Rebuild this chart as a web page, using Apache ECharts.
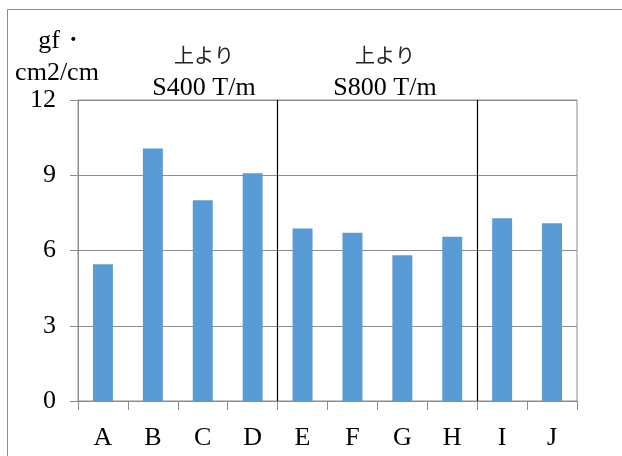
<!DOCTYPE html>
<html>
<head>
<meta charset="utf-8">
<script src="https://cdn.jsdelivr.net/npm/echarts@6/dist/echarts.min.js"></script>
<style>
  html, body { margin: 0; padding: 0; background: #fff; }
  #chart { width: 622px; height: 456px; }
</style>
</head>
<body>
<div id="chart"></div>
<script>
// Sample categories and measured values (gf·cm2/cm)
const categories = ['A', 'B', 'C', 'D', 'E', 'F', 'G', 'H', 'I', 'J'];
const values = [5.45, 10.07, 8.0, 9.08, 6.88, 6.71, 5.81, 6.55, 7.29, 7.09];
const yTicks = { min: 0, max: 12, interval: 3 };
// Group boundaries, counted in category slots from the left edge
const groupBounds = [4, 8];
const groupTitles = ['上より', '上より'];
const groupSpeeds = ['S400 T/m', 'S800 T/m'];
const unitLines = ['gf・', 'cm2/cm'];

const SERIF = '"Liberation Serif", "Times New Roman", serif';
const JP = '"Noto Sans CJK JP", sans-serif';
const GRAY = '#8c8c8c';
const FS = 26;

const chart = echarts.init(document.getElementById('chart'), null, { renderer: 'canvas' });

// group headings sit centred over each group of bars
const groupCenters = [204, 385];
const headingTexts = [];
groupCenters.forEach((cx, i) => {
  headingTexts.push({
    type: 'text', silent: true,
    style: { x: cx, y: 55, text: groupTitles[i], font: '20px ' + JP, fill: '#222',
             textAlign: 'center', textVerticalAlign: 'middle' }
  });
  headingTexts.push({
    type: 'text', silent: true,
    style: { x: cx, y: 88, text: groupSpeeds[i], font: FS + 'px ' + SERIF, fill: '#000',
             textAlign: 'center', textVerticalAlign: 'middle' }
  });
});

chart.setOption({
  animation: false,
  backgroundColor: '#fff',
  textStyle: { fontFamily: SERIF },
  grid: {
    left: 78, right: 45, top: 100, bottom: 55,
    show: true, borderColor: GRAY, borderWidth: 1, backgroundColor: 'transparent'
  },
  xAxis: [
    {
      type: 'category',
      data: categories,
      boundaryGap: true,
      axisLine: { lineStyle: { color: GRAY, width: 1 } },
      axisTick: { show: true, length: 9, lineStyle: { color: GRAY } },
      axisLabel: { color: '#000', fontSize: FS, fontFamily: SERIF, margin: 24 },
      splitLine: { show: false }
    },
    {
      // helper axis spanning the category slots, used for group separators
      type: 'value',
      min: 0,
      max: categories.length,
      show: false
    }
  ],
  yAxis: {
    type: 'value',
    min: yTicks.min,
    max: yTicks.max,
    interval: yTicks.interval,
    axisLine: { show: true, lineStyle: { color: GRAY, width: 1 } },
    axisTick: { show: true, inside: false, length: 8, lineStyle: { color: GRAY } },
    axisLabel: { color: '#000', fontSize: FS, fontFamily: SERIF, margin: 22 },
    splitLine: { show: true, lineStyle: { color: GRAY, width: 1 } }
  },
  series: [
    {
      type: 'bar',
      data: values,
      barWidth: '40%',
      itemStyle: { color: '#5B9BD5' }
    },
    {
      type: 'line',
      xAxisIndex: 1,
      data: [],
      silent: true,
      markLine: {
        silent: true,
        symbol: ['none', 'none'],
        label: { show: false },
        lineStyle: { color: '#000', width: 1.2, type: 'solid' },
        data: groupBounds.map(v => ({ xAxis: v }))
      }
    }
  ],
  graphic: [
    {
      type: 'rect',
      silent: true,
      shape: { x: 7.5, y: 9.5, width: 700, height: 600 },
      style: { fill: 'none', stroke: GRAY, lineWidth: 1 }
    },
    {
      type: 'text', silent: true,
      style: { x: 62, y: 41, text: unitLines[0], font: FS + 'px ' + SERIF, fill: '#000',
               textAlign: 'center', textVerticalAlign: 'middle' }
    },
    {
      type: 'text', silent: true,
      style: { x: 57, y: 73, text: unitLines[1], font: FS + 'px ' + SERIF, fill: '#000',
               textAlign: 'center', textVerticalAlign: 'middle' }
    }
  ].concat(headingTexts)
});
</script>
</body>
</html>
